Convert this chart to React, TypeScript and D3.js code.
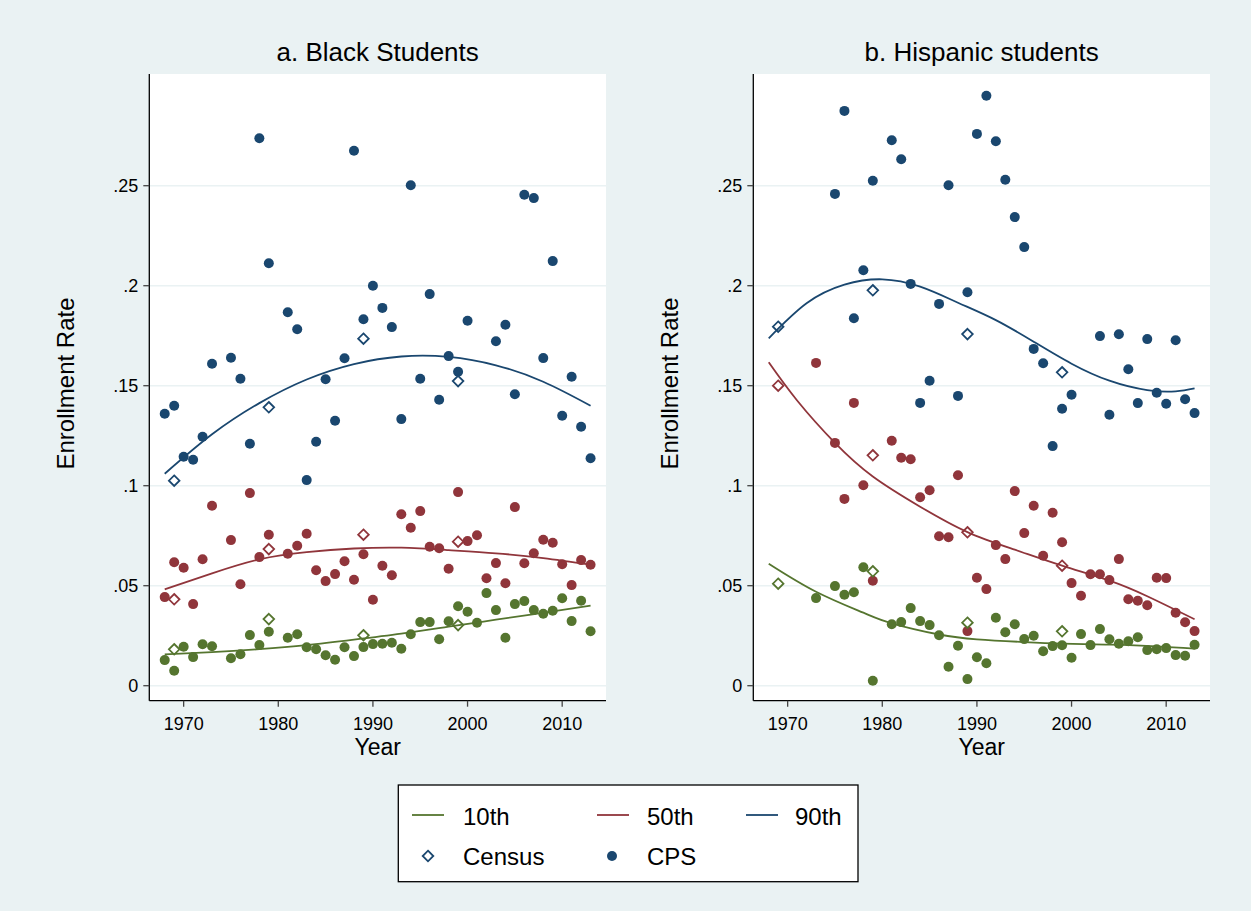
import React from 'react';
import * as d3 from 'd3';

type Pt = [number, number];

const NAVY = '#1a476f';
const MAROON = '#90353b';
const GREEN = '#55752f';
const BG = '#eaf2f3';
const FONT = '"Liberation Sans", Arial, Helvetica, sans-serif';

const xTicks = [1970, 1980, 1990, 2000, 2010];
const yTicks = [0, 0.05, 0.1, 0.15, 0.2, 0.25];
const yTickLabels = ['0', '.05', '.1', '.15', '.2', '.25'];
const panelTitles = ['a. Black Students', 'b. Hispanic students'];
const legendLines = ['10th', '50th', '90th'];
const legendMarkers = ['Census', 'CPS'];

// ---- Black students: CPS (dots) ----
const blackCps90: Pt[] = [
  [1968, 0.136], [1969, 0.14], [1970, 0.1145], [1971, 0.113], [1972, 0.1245], [1973, 0.161],
  [1975, 0.164], [1976, 0.1535], [1977, 0.121], [1978, 0.2737], [1979, 0.2112], [1981, 0.1867],
  [1982, 0.1782], [1983, 0.1028], [1984, 0.122], [1985, 0.1532], [1986, 0.1325], [1987, 0.1637],
  [1988, 0.2675], [1989, 0.1832], [1990, 0.2], [1991, 0.1889], [1992, 0.1793], [1993, 0.1333],
  [1994, 0.2502], [1995, 0.1535], [1996, 0.1958], [1997, 0.143], [1998, 0.1648], [1999, 0.157],
  [2000, 0.1825], [2003, 0.1722], [2004, 0.1805], [2005, 0.1457], [2006, 0.2455], [2007, 0.2438],
  [2008, 0.1638], [2009, 0.2123], [2010, 0.135], [2011, 0.1545], [2012, 0.1295], [2013, 0.1137],
];
const blackCps50: Pt[] = [
  [1968, 0.0443], [1969, 0.0617], [1970, 0.059], [1971, 0.0408], [1972, 0.0632], [1973, 0.09],
  [1975, 0.0728], [1976, 0.0507], [1977, 0.0963], [1978, 0.0643], [1979, 0.0755], [1981, 0.066],
  [1982, 0.07], [1983, 0.076], [1984, 0.0577], [1985, 0.0523], [1986, 0.0558], [1987, 0.0622],
  [1988, 0.053], [1989, 0.0657], [1990, 0.043], [1991, 0.06], [1992, 0.0552], [1993, 0.0857],
  [1994, 0.079], [1995, 0.0873], [1996, 0.0695], [1997, 0.0687], [1998, 0.0585], [1999, 0.0968],
  [2000, 0.0723], [2001, 0.0752], [2002, 0.0537], [2003, 0.0613], [2004, 0.0512], [2005, 0.0893],
  [2006, 0.0612], [2007, 0.0662], [2008, 0.073], [2009, 0.0715], [2010, 0.0607], [2011, 0.0503],
  [2012, 0.0628], [2013, 0.0605],
];
const blackCps10: Pt[] = [
  [1968, 0.0128], [1969, 0.0075], [1970, 0.0195], [1971, 0.0143], [1972, 0.0207], [1973, 0.0197],
  [1975, 0.0137], [1976, 0.0157], [1977, 0.0253], [1978, 0.0203], [1979, 0.027], [1981, 0.024],
  [1982, 0.0257], [1983, 0.0192], [1984, 0.0182], [1985, 0.0152], [1986, 0.013], [1987, 0.0192],
  [1988, 0.0148], [1989, 0.0193], [1990, 0.0208], [1991, 0.021], [1992, 0.0215], [1993, 0.0185],
  [1994, 0.0257], [1995, 0.0318], [1996, 0.0318], [1997, 0.0232], [1998, 0.0322], [1999, 0.0397],
  [2000, 0.037], [2001, 0.0315], [2002, 0.0463], [2003, 0.0378], [2004, 0.024], [2005, 0.0408],
  [2006, 0.0423], [2007, 0.0378], [2008, 0.036], [2009, 0.0375], [2010, 0.0437], [2011, 0.0323],
  [2012, 0.0425], [2013, 0.0272],
];
// ---- Black students: Census (diamonds) ----
const blackCensus90: Pt[] = [[1969, 0.1025], [1979, 0.1392], [1989, 0.1735], [1999, 0.1523]];
const blackCensus50: Pt[] = [[1969, 0.0432], [1979, 0.0683], [1989, 0.0755], [1999, 0.072]];
const blackCensus10: Pt[] = [[1969, 0.0182], [1979, 0.0333], [1989, 0.0252], [1999, 0.0303]];
// ---- Black students: fitted curves ----
const blackFit90: Pt[] = [
  [1968, 0.106], [1973, 0.1257], [1978, 0.1413], [1983, 0.1531], [1988, 0.1608], [1993, 0.1646],
  [1998, 0.1644], [2003, 0.1602], [2008, 0.152], [2013, 0.14],
];
const blackFit50: Pt[] = [
  [1968, 0.0482], [1973, 0.0562], [1978, 0.0632], [1983, 0.0668], [1988, 0.0686], [1993, 0.069],
  [1998, 0.0678], [2003, 0.0662], [2008, 0.0638], [2013, 0.0605],
];
const blackFit10: Pt[] = [
  [1968, 0.0157], [1973, 0.0168], [1978, 0.0183], [1983, 0.0203], [1988, 0.023], [1993, 0.026],
  [1998, 0.0295], [2003, 0.033], [2008, 0.0365], [2013, 0.04],
];

// ---- Hispanic students: CPS (dots) ----
const hispCps90: Pt[] = [
  [1975, 0.2459], [1976, 0.2874], [1977, 0.1837], [1978, 0.2077], [1979, 0.2525], [1981, 0.2727],
  [1982, 0.2632], [1983, 0.2009], [1984, 0.1414], [1985, 0.1525], [1986, 0.1909], [1987, 0.2502],
  [1988, 0.1449], [1989, 0.1967], [1990, 0.2759], [1991, 0.295], [1992, 0.2722], [1993, 0.253],
  [1994, 0.2343], [1995, 0.2193], [1996, 0.1684], [1997, 0.1612], [1998, 0.1198], [1999, 0.1385],
  [2000, 0.1455], [2003, 0.1748], [2004, 0.1355], [2005, 0.1757], [2006, 0.1582], [2007, 0.1413],
  [2008, 0.1733], [2009, 0.1465], [2010, 0.141], [2011, 0.1727], [2012, 0.1432], [2013, 0.1363],
];
const hispCps50: Pt[] = [
  [1973, 0.1614], [1975, 0.1214], [1976, 0.0934], [1977, 0.1414], [1978, 0.1002], [1979, 0.0525],
  [1981, 0.1225], [1982, 0.114], [1983, 0.1132], [1984, 0.0942], [1985, 0.0977], [1986, 0.0747],
  [1987, 0.0742], [1988, 0.1052], [1989, 0.0273], [1990, 0.054], [1991, 0.0483], [1992, 0.0703],
  [1993, 0.0633], [1994, 0.0973], [1995, 0.0763], [1996, 0.09], [1997, 0.065], [1998, 0.0865],
  [1999, 0.0717], [2000, 0.0513], [2001, 0.045], [2002, 0.0557], [2003, 0.0557], [2004, 0.0528],
  [2005, 0.0633], [2006, 0.0432], [2007, 0.0425], [2008, 0.0402], [2009, 0.054], [2010, 0.0538],
  [2011, 0.0365], [2012, 0.0317], [2013, 0.0273],
];
const hispCps10: Pt[] = [
  [1973, 0.0438], [1975, 0.0498], [1976, 0.0455], [1977, 0.0467], [1978, 0.0592], [1979, 0.0025],
  [1981, 0.0307], [1982, 0.0318], [1983, 0.0388], [1984, 0.0323], [1985, 0.0303], [1986, 0.0252],
  [1987, 0.0095], [1988, 0.02], [1989, 0.0033], [1990, 0.0142], [1991, 0.0112], [1992, 0.034],
  [1993, 0.0267], [1994, 0.0307], [1995, 0.0233], [1996, 0.025], [1997, 0.0172], [1998, 0.0198],
  [1999, 0.0202], [2000, 0.014], [2001, 0.0258], [2002, 0.0203], [2003, 0.0283], [2004, 0.0232],
  [2005, 0.021], [2006, 0.0222], [2007, 0.0242], [2008, 0.0178], [2009, 0.0182], [2010, 0.0188],
  [2011, 0.0153], [2012, 0.015], [2013, 0.0205],
];
// ---- Hispanic students: Census (diamonds) ----
const hispCensus90: Pt[] = [[1969, 0.1795], [1979, 0.1977], [1989, 0.1758], [1999, 0.1567]];
const hispCensus50: Pt[] = [[1969, 0.15], [1979, 0.1152], [1989, 0.0767], [1999, 0.06]];
const hispCensus10: Pt[] = [[1969, 0.051], [1979, 0.0572], [1989, 0.0315], [1999, 0.0272]];
// ---- Hispanic students: fitted curves ----
const hispFit90: Pt[] = [
  [1968, 0.1737], [1972, 0.1912], [1976, 0.2005], [1980, 0.2032], [1984, 0.1995], [1988, 0.1915],
  [1992, 0.1828], [1996, 0.172], [2000, 0.161], [2004, 0.1525], [2008, 0.1478], [2011, 0.1472],
  [2013, 0.1487],
];
const hispFit50: Pt[] = [
  [1968, 0.1617], [1971, 0.1426], [1975, 0.1214], [1979, 0.1046], [1984, 0.0895], [1989, 0.0768],
  [1994, 0.068], [1999, 0.06], [2004, 0.0525], [2008, 0.0447], [2013, 0.0332],
];
const hispFit10: Pt[] = [
  [1968, 0.061], [1973, 0.047], [1978, 0.0365], [1981, 0.0312], [1986, 0.0256], [1990, 0.0232],
  [1995, 0.0218], [1999, 0.021], [2004, 0.0205], [2009, 0.0197], [2013, 0.0185],
];

const W = 1251;
const H = 911;
const PLOT_TOP = 74;
const PLOT_BOTTOM = 700.7;
const X_DOMAIN: [number, number] = [1966.37, 2014.63];
const Y_DOMAIN: [number, number] = [-0.0075, 0.30585];

interface SeriesSet {
  cps: Pt[];
  census: Pt[];
  fit: Pt[];
  color: string;
}

const DIAMOND_R = 5.3;
const diamondPath = (r: number) => `M0,${-r}L${r},0L0,${r}L${-r},0Z`;

function Panel({ left, right, title, sets }: { left: number; right: number; title: string; sets: SeriesSet[] }) {
  const x = d3.scaleLinear().domain(X_DOMAIN).range([left, right]);
  const y = d3.scaleLinear().domain(Y_DOMAIN).range([PLOT_BOTTOM, PLOT_TOP]);
  const line = d3
    .line<Pt>()
    .x((d) => x(d[0]))
    .y((d) => y(d[1]))
    .curve(d3.curveNatural);
  const cx = (left + right) / 2;
  return (
    <g>
      <rect x={left} y={PLOT_TOP} width={right - left} height={PLOT_BOTTOM - PLOT_TOP} fill="#ffffff" />
      {yTicks.map((t) => (
        <line key={'g' + t} x1={left} x2={right} y1={y(t)} y2={y(t)} stroke={BG} strokeWidth={1.4} />
      ))}
      {sets.map((s, i) =>
        s.cps.map((d, j) => <circle key={`c${i}-${j}`} cx={x(d[0])} cy={y(d[1])} r={5} fill={s.color} />)
      )}
      {sets.map((s, i) =>
        s.census.map((d, j) => (
          <path
            key={`d${i}-${j}`}
            d={diamondPath(DIAMOND_R)}
            transform={`translate(${x(d[0])},${y(d[1])})`}
            fill="#ffffff"
            stroke={s.color}
            strokeWidth={1.8}
          />
        ))
      )}
      {sets.map((s, i) => (
        <path key={`f${i}`} d={line(s.fit) || ''} fill="none" stroke={s.color} strokeWidth={1.8} />
      ))}
      {/* axes */}
      <line x1={left} x2={left} y1={PLOT_TOP} y2={PLOT_BOTTOM} stroke="#000" strokeWidth={1.3} />
      <line x1={left} x2={right} y1={PLOT_BOTTOM} y2={PLOT_BOTTOM} stroke="#000" strokeWidth={1.3} />
      {yTicks.map((t, i) => (
        <g key={'yt' + t}>
          <line x1={left - 6} x2={left} y1={y(t)} y2={y(t)} stroke="#444" strokeWidth={1.3} />
          <text
            x={left - 11}
            y={y(t) + 6.5}
            textAnchor="end"
            fontSize={18}
            fontFamily={FONT}
            fill="#000"
          >
            {yTickLabels[i]}
          </text>
        </g>
      ))}
      {xTicks.map((t) => (
        <g key={'xt' + t}>
          <line x1={x(t)} x2={x(t)} y1={PLOT_BOTTOM} y2={PLOT_BOTTOM + 6} stroke="#444" strokeWidth={1.3} />
          <text x={x(t)} y={730} textAnchor="middle" fontSize={18} fontFamily={FONT} fill="#000">
            {t}
          </text>
        </g>
      ))}
      <text x={cx} y={755} textAnchor="middle" fontSize={23} fontFamily={FONT} fill="#000">
        Year
      </text>
      <text
        transform={`translate(${left - 75},${383.5}) rotate(-90)`}
        textAnchor="middle"
        fontSize={24}
        fontFamily={FONT}
        fill="#000"
      >
        Enrollment Rate
      </text>
      <text x={cx} y={61} textAnchor="middle" fontSize={26} fontFamily={FONT} fill="#000">
        {title}
      </text>
    </g>
  );
}

export default function App() {
  const blackSets: SeriesSet[] = [
    { cps: blackCps10, census: blackCensus10, fit: blackFit10, color: GREEN },
    { cps: blackCps50, census: blackCensus50, fit: blackFit50, color: MAROON },
    { cps: blackCps90, census: blackCensus90, fit: blackFit90, color: NAVY },
  ];
  const hispSets: SeriesSet[] = [
    { cps: hispCps10, census: hispCensus10, fit: hispFit10, color: GREEN },
    { cps: hispCps50, census: hispCensus50, fit: hispFit50, color: MAROON },
    { cps: hispCps90, census: hispCensus90, fit: hispFit90, color: NAVY },
  ];
  const lineColors = [GREEN, MAROON, NAVY];
  const lineX = [412, 597, 746];
  const textX = [463, 647, 795];
  return (
    <svg
      width={W}
      height={H}
      viewBox={`0 0 ${W} ${H}`}
      style={{ position: 'absolute', left: 0, top: 0, display: 'block' }}
    >
      <rect x={0} y={0} width={W} height={H} fill={BG} />
      <Panel left={149.3} right={606} title={panelTitles[0]} sets={blackSets} />
      <Panel left={753.3} right={1210} title={panelTitles[1]} sets={hispSets} />
      {/* legend */}
      <rect x={398.3} y={785} width={459.7} height={96.7} fill="#fff" stroke="#000" strokeWidth={1.3} />
      {legendLines.map((lab, i) => (
        <g key={lab}>
          <line x1={lineX[i]} x2={lineX[i] + 32} y1={815} y2={815} stroke={lineColors[i]} strokeWidth={1.8} />
          <text x={textX[i]} y={825} fontSize={24} fontFamily={FONT} fill="#000">
            {lab}
          </text>
        </g>
      ))}
      <path
        d={diamondPath(DIAMOND_R)}
        transform="translate(428,856)"
        fill="#fff"
        stroke={NAVY}
        strokeWidth={1.8}
      />
      <text x={textX[0]} y={865} fontSize={24} fontFamily={FONT} fill="#000">
        {legendMarkers[0]}
      </text>
      <circle cx={612} cy={856} r={5} fill={NAVY} />
      <text x={textX[1]} y={865} fontSize={24} fontFamily={FONT} fill="#000">
        {legendMarkers[1]}
      </text>
    </svg>
  );
}
